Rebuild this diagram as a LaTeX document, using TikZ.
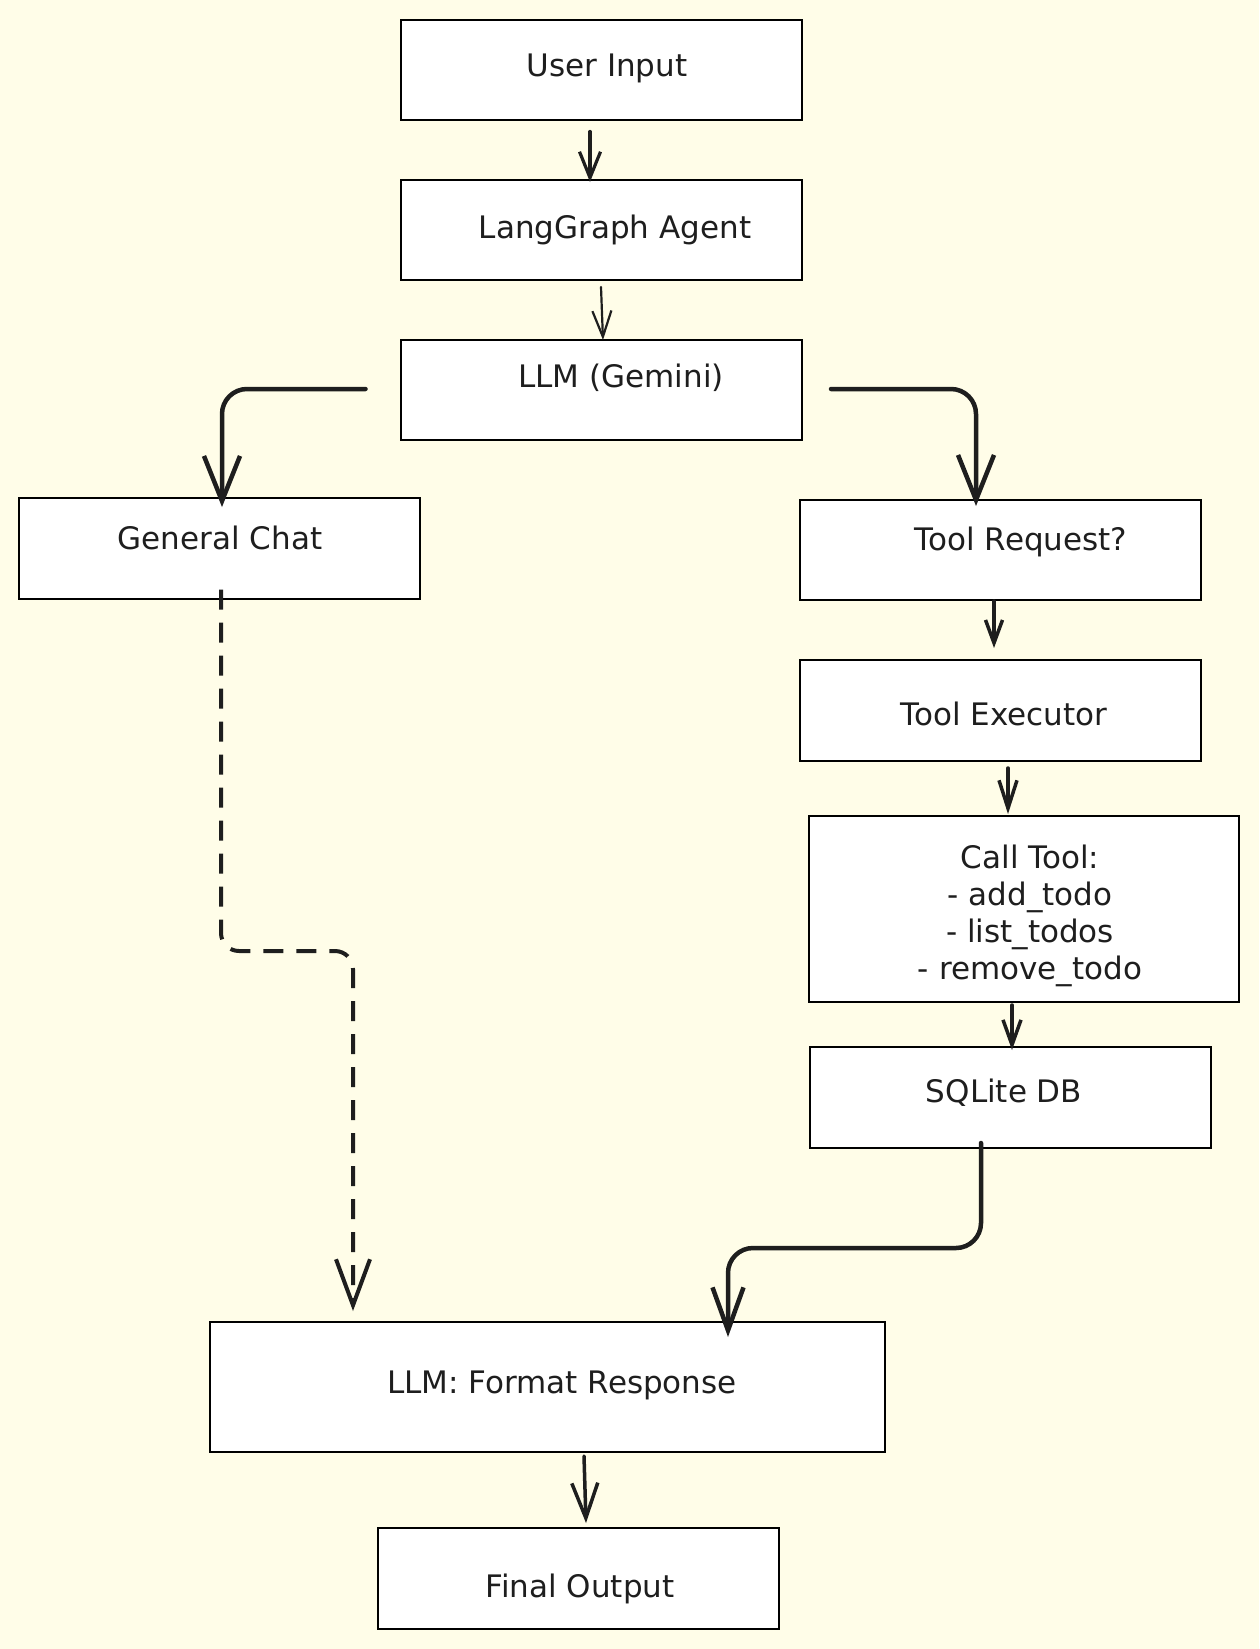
\documentclass[tikz,border=0pt]{standalone}
\usepackage{fontspec}
\setmainfont{DejaVu Sans}
\usetikzlibrary{arrows.meta}
\definecolor{bg}{RGB}{255,253,232}
\definecolor{ink}{RGB}{30,30,30}
\begin{document}
\begin{tikzpicture}[x=1pt,y=-1pt,
  box/.style={draw=black, fill=white, line width=2pt, inner sep=0pt,
    minimum width=401pt, minimum height=100pt},
  lbl/.style={anchor=base, inner sep=0pt, font=\fontsize{31}{37}\selectfont, text=ink},
  conn/.style={draw=ink, line cap=round, line join=round},
  thinarrow/.style={conn, line width=3.2pt, -{Straight Barb[length=26pt,width=21pt]}},
  midarrow/.style={conn, line width=3.5pt, -{Straight Barb[length=26pt,width=19pt]}},
  bendarrow/.style={conn, line width=4.5pt, rounded corners=25pt, -{Straight Barb[length=45pt,width=36pt]}},
  dashline/.style={conn, line width=4pt, line cap=butt, dash pattern=on 20pt off 13pt,
    rounded corners=18pt, -{Straight Barb[length=46pt,width=34pt]}},
]
\fill[bg] (0,0) rectangle (1259,1649);
\useasboundingbox (0,0) rectangle (1259,1649);

% boxes
\node[box] (ui)  at (601,69.5) {};
\node[box] (la)  at (601,230) {};
\node[box] (llm) at (601,390) {};
\node[box, minimum height=101pt] (gc)  at (219.5,548) {};
\node[box] (tr)  at (1000.5,550) {};
\node[box, minimum height=101pt] (te)  at (1000.5,710) {};
\node[box, minimum width=430pt, minimum height=186pt] (ct) at (1024,909) {};
\node[box, minimum height=101pt] (db)  at (1010.5,1097) {};
\node[box, minimum width=675pt, minimum height=130pt] (fr) at (547.5,1387) {};
\node[box, minimum height=101pt] (fo)  at (578,1578.5) {};

% labels
\node[lbl] (tui)  at (607,76)  {User Input};
\node[lbl] (tla)  at (615,238) {LangGraph Agent};
\node[lbl] (tllm) at (621,387) {LLM (Gemini)};
\node[lbl] (tgc)  at (220,549) {General Chat};
\node[lbl] (ttr)  at (1021,550) {Tool Request?};
\node[lbl] (tte)  at (1004,725) {Tool Executor};
\node[lbl, anchor=center, align=center] (tct) at (1030,916)
  {Call Tool:\\- add\_todo\\- list\_todos\\- remove\_todo};
\node[lbl] (tdb)  at (1004,1102) {SQLite DB};
\node[lbl] (tfr)  at (562,1393) {LLM: Format Response};
\node[lbl] (tfo)  at (580,1597) {Final Output};

% connectors
\draw[thinarrow] ([xshift=-11pt,yshift=-11pt]ui.south) -- ([xshift=-11pt,yshift=-3pt]la.north);
\draw[thinarrow, line width=2.2pt, -{Straight Barb[length=26pt,width=19pt]}]
  ([yshift=-6pt]la.south) -- ([xshift=2pt,yshift=-1pt]llm.north);
\draw[bendarrow] ([xshift=-34pt,yshift=1pt]llm.west) -| ([xshift=2.5pt,yshift=-10.5pt]gc.north);
\draw[bendarrow] ([xshift=28.5pt,yshift=1pt]llm.east) -| ([xshift=-24.5pt,yshift=-7pt]tr.north);
\draw[midarrow, -{Straight Barb[length=23pt,width=17pt]}]
  ([xshift=-6.5pt]tr.south) -- ([xshift=-6.5pt,yshift=10.5pt]te.north);
\draw[midarrow, -{Straight Barb[length=28pt,width=18pt]}]
  ([xshift=7.5pt,yshift=-6.5pt]te.south) -- ([xshift=-16pt,yshift=1pt]ct.north);
\draw[midarrow, -{Straight Barb[length=25pt,width=18pt]}]
  ([xshift=-12pt,yshift=-2pt]ct.south) -- ([xshift=1.5pt,yshift=-4.5pt]db.north);
\draw[dashline] ([xshift=1.5pt,yshift=10pt]gc.south) -- (221,951) -- (353,951)
  -- ([xshift=-194.5pt,yshift=10pt]fr.north);
\draw[bendarrow, -{Straight Barb[length=43pt,width=31pt]}]
  ([xshift=-29.5pt,yshift=5.5pt]db.south) |- (850,1248)
  -| ([xshift=180.5pt,yshift=-16pt]fr.north);
\draw[midarrow, -{Straight Barb[length=35pt,width=26pt]}]
  ([xshift=36.5pt,yshift=-3pt]fr.south) -- ([xshift=8pt,yshift=4pt]fo.north);
\end{tikzpicture}
\end{document}
